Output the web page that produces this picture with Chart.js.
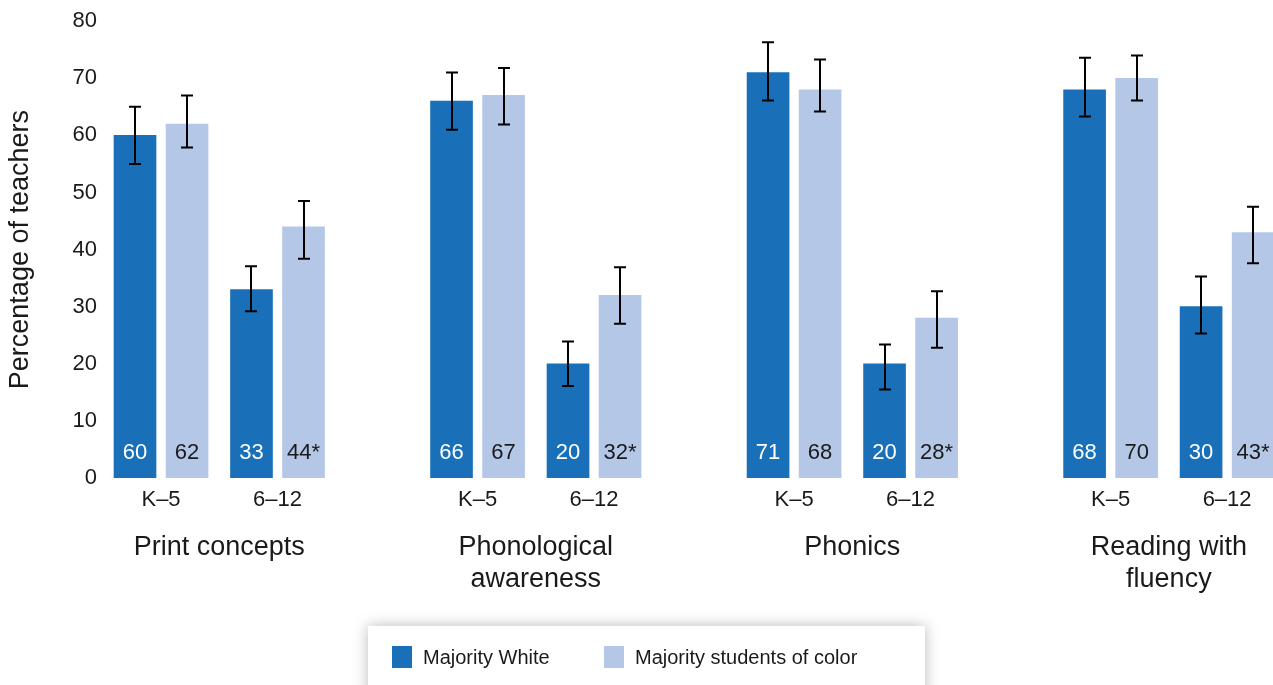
<!DOCTYPE html>
<html>
<head>
<meta charset="utf-8">
<script src="https://cdn.jsdelivr.net/npm/chart.js@4.4.1/dist/chart.umd.min.js"></script>
<style>
  html, body { margin: 0; padding: 0; background: #ffffff; }
  #wrap { position: relative; width: 1273px; height: 685px; }
</style>
</head>
<body>
<div id="wrap"><canvas id="chart" width="1273" height="685"></canvas></div>
<script>
// ---- data ----
const categories = [['Print concepts'], ['Phonological', 'awareness'], ['Phonics'], ['Reading with', 'fluency']];
const gradeBands = ['K–5', '6–12'];
const seriesNames = ['Majority White', 'Majority students of color'];
// one entry per category and grade band: K–5, 6–12, K–5, 6–12, ...
const whiteValues = [60, 33, 66, 20, 71, 20, 68, 30];
const colorValues = [62, 44, 67, 32, 68, 28, 70, 43];
const colorSignificant = [false, true, false, true, false, true, false, true];
const whiteLow  = [55.0, 29.2, 61.0, 16.1, 66.1, 15.5, 63.3, 25.3];
const whiteHigh = [65.0, 37.1, 71.0, 23.9, 76.3, 23.4, 73.6, 35.3];
const colorLow  = [57.9, 38.4, 61.9, 27.0, 64.2, 22.8, 66.1, 37.6];
const colorHigh = [67.0, 48.5, 71.8, 36.9, 73.3, 32.7, 74.0, 47.5];
const yTicks = [0, 10, 20, 30, 40, 50, 60, 70, 80];

// ---- layout ----
const FONT = "'Liberation Sans', Arial, Helvetica, sans-serif";
const DARK = '#1A70B8';
const LIGHT = '#B4C7E7';
const TEXT = '#1a1a1a';
const BAND_OFFSET = 0.368;   // distance K–5 -> 6–12 within a category (category step = 1)
const BAR_SHIFT = 0.0822;    // half distance between the two bars of a pair
const X_MIN = -0.177, X_MAX = 3.513;
const Y_AXIS_W = 105;

const bandPos = categories.flatMap((c, i) => [i, i + BAND_OFFSET]);
const groupPos = categories.map((c, i) => i + BAND_OFFSET / 2);

const whiteData = whiteValues.map((v, k) => ({ x: bandPos[k] - BAR_SHIFT, y: v }));
const colorData = colorValues.map((v, k) => ({ x: bandPos[k] + BAR_SHIFT, y: v }));

const errors = [
  { low: whiteLow, high: whiteHigh },
  { low: colorLow, high: colorHigh }
];
const labelColors = ['#ffffff', TEXT];
const flags = [whiteValues.map(() => false), colorSignificant];

const errorBarPlugin = {
  id: 'errorBars',
  afterDatasetsDraw(chart) {
    const ctx = chart.ctx;
    const y = chart.scales.y;
    ctx.save();
    ctx.strokeStyle = '#000000';
    ctx.lineWidth = 2;
    chart.data.datasets.forEach((ds, di) => {
      const meta = chart.getDatasetMeta(di);
      meta.data.forEach((bar, k) => {
        const top = y.getPixelForValue(errors[di].high[k]);
        const bot = y.getPixelForValue(errors[di].low[k]);
        const cx = Math.round(bar.x);
        ctx.beginPath();
        ctx.moveTo(cx, top); ctx.lineTo(cx, bot);
        ctx.moveTo(cx - 6, top); ctx.lineTo(cx + 6, top);
        ctx.moveTo(cx - 6, bot); ctx.lineTo(cx + 6, bot);
        ctx.stroke();
      });
    });
    ctx.restore();
  }
};

const valueLabelPlugin = {
  id: 'valueLabels',
  afterDatasetsDraw(chart) {
    const ctx = chart.ctx;
    const y0 = chart.scales.y.getPixelForValue(0);
    ctx.save();
    ctx.font = '22px ' + FONT;
    ctx.textAlign = 'center';
    ctx.textBaseline = 'middle';
    chart.data.datasets.forEach((ds, di) => {
      const meta = chart.getDatasetMeta(di);
      ctx.fillStyle = labelColors[di];
      meta.data.forEach((bar, k) => {
        const v = ds.data[k].y;
        ctx.fillText(String(v) + (flags[di][k] ? '*' : ''), bar.x, y0 - 25);
      });
    });
    ctx.restore();
  }
};

const legendBoxPlugin = {
  id: 'legendBox',
  afterDraw(chart) {
    const ctx = chart.ctx;
    const bx = 368, by = 626, bw = 557, bh = 80;
    ctx.save();
    ctx.shadowColor = 'rgba(0,0,0,0.28)';
    ctx.shadowBlur = 14;
    ctx.fillStyle = '#ffffff';
    ctx.fillRect(bx, by, bw, bh);
    ctx.restore();
    ctx.save();
    const items = [
      { x: 392, color: DARK, text: chart.data.datasets[0].label },
      { x: 604, color: LIGHT, text: chart.data.datasets[1].label }
    ];
    ctx.font = '20px ' + FONT;
    ctx.textBaseline = 'middle';
    ctx.textAlign = 'left';
    items.forEach(it => {
      ctx.fillStyle = it.color;
      ctx.fillRect(it.x, 646, 20, 22);
      ctx.fillStyle = TEXT;
      ctx.fillText(it.text, it.x + 31, 658);
    });
    ctx.restore();
  }
};

new Chart(document.getElementById('chart'), {
  type: 'bar',
  data: {
    datasets: [
      { label: seriesNames[0], data: whiteData, backgroundColor: DARK, grouped: false,
        barThickness: 42, maxBarThickness: 42 },
      { label: seriesNames[1], data: colorData, backgroundColor: LIGHT, grouped: false,
        barThickness: 42, maxBarThickness: 42 }
    ]
  },
  options: {
    responsive: false,
    animation: false,
    layout: { padding: { top: 18, bottom: 69, left: 0, right: 0 } },
    plugins: { legend: { display: false }, tooltip: { enabled: false } },
    scales: {
      x: {
        type: 'linear',
        position: 'bottom',
        offset: false,
        min: X_MIN, max: X_MAX,
        grid: { display: false, drawTicks: false, offset: false },
        border: { display: false },
        afterBuildTicks: s => { s.ticks = bandPos.map(v => ({ value: v })); },
        afterFit: s => { s.height = 38; },
        ticks: {
          autoSkip: false, maxRotation: 0, padding: 9,
          font: { family: FONT, size: 22 }, color: TEXT,
          callback: (v, i) => gradeBands[i % 2]
        }
      },
      x2: {
        type: 'linear',
        position: 'bottom',
        offset: false,
        min: X_MIN, max: X_MAX,
        grid: { display: false, drawTicks: false, offset: false },
        border: { display: false },
        afterBuildTicks: s => { s.ticks = groupPos.map(v => ({ value: v })); },
        afterFit: s => { s.height = 100; },
        ticks: {
          autoSkip: false, maxRotation: 0, padding: 15,
          font: { family: FONT, size: 27, lineHeight: 1.19 }, color: TEXT,
          callback: (v, i) => categories[i]
        }
      },
      y: {
        min: 0, max: 80,
        grid: { display: false, drawTicks: false },
        border: { display: false },
        afterBuildTicks: s => { s.ticks = yTicks.map(v => ({ value: v })); },
        afterFit: s => { s.width = Y_AXIS_W; },
        ticks: { padding: 8, font: { family: FONT, size: 22 }, color: TEXT },
        title: {
          display: true, text: 'Percentage of teachers',
          font: { family: FONT, size: 27 }, color: TEXT,
          padding: { top: 4, bottom: 0 }
        }
      }
    }
  },
  plugins: [errorBarPlugin, valueLabelPlugin, legendBoxPlugin]
});
</script>
</body>
</html>
